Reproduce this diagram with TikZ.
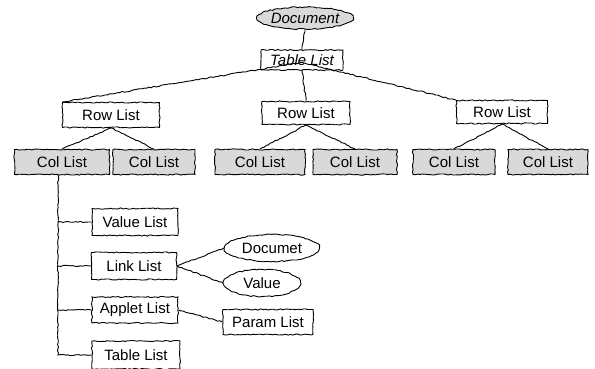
\documentclass[tikz,border=0pt]{standalone}
\usepackage{fontspec}
\setmainfont{Liberation Sans}
\usetikzlibrary{shapes.geometric,decorations.pathmorphing}
\tikzset{
  rough/.style   = {decorate, decoration={random steps, segment length=2.5pt, amplitude=0.6pt}},
  listbox/.style = {rectangle, draw, rough, line width=0.9pt, inner sep=0pt,
                    minimum height=25pt, font=\fontsize{15}{17}\selectfont},
  colbox/.style  = {listbox, fill=gray!30},
  docnode/.style = {ellipse, draw, rough, line width=0.9pt, inner sep=0pt,
                    minimum height=27pt, font=\fontsize{15}{17}\selectfont},
  link/.style    = {rough, line width=0.9pt}
}

\begin{document}
\begin{tikzpicture}[x=1pt,y=-1pt]
\pgfmathsetseed{7}
\useasboundingbox (0,0) rectangle (595,369);

% --- root ---
\node[docnode, fill=gray!30, minimum width=80pt, minimum height=22pt, font=\fontsize{15}{17}\selectfont\itshape] (doc) at (305,18) {Document};
\node[listbox, minimum width=82pt, minimum height=20pt, font=\fontsize{15}{17}\selectfont\itshape] (tabtop) at (302,60) {Table List};

% --- row lists ---
\node[listbox, minimum width=97pt] (row1) at (111,115) {Row List};
\node[listbox, minimum width=88pt, minimum height=23pt] (row2) at (306,113) {Row List};
\node[listbox, minimum width=91pt, minimum height=23pt] (row3) at (502,112) {Row List};

% --- col lists ---
\foreach \x/\w [count=\i] in {62/95, 154/82, 260/90, 355/84, 454/82, 548/80}{
  \node[colbox, minimum width=\w pt] (col\i) at (\x,162) {Col List};
}

% --- children of the first col list ---
\node[listbox, minimum width=86pt, minimum height=27pt] (vlist) at (135,222) {Value List};
\node[listbox, minimum width=85pt, minimum height=27pt] (llist) at (134,266) {Link List};
\node[listbox, minimum width=86pt, minimum height=26pt] (alist) at (135,310) {Applet List};
\node[listbox, minimum width=88pt, minimum height=28pt] (tlist) at (136,355) {Table List};

\node[docnode, minimum width=95pt] (documet) at (272,248) {Documet};
\node[docnode, minimum width=77pt] (value) at (262,283) {Value};
\node[listbox, minimum width=90pt] (param) at (268,322) {Param List};

% --- connections ---
\draw[link] (doc.south) -- (tabtop.north);
\coordinate (split) at ([yshift=8pt]tabtop.south);
\draw[link] (tabtop.south) -- (row2.north);
\draw[link] (split) -- (row1.north west);
\draw[link] (split) -- (row3.north west);

\foreach \r/\a/\b in {1/1/2, 2/3/4, 3/5/6}{
  \draw[link] (row\r.south) -- (col\a.north);
  \draw[link] (row\r.south) -- (col\b.north);
}

\coordinate (trunk) at ([xshift=-4pt]col1.south);
\draw[link] (trunk) |- (tlist.west);
\foreach \n in {vlist, llist, alist}{
  \draw[link] (trunk |- \n.west) -- (\n.west);
}

\draw[link] (llist.east) -- (documet.west);
\draw[link] (llist.east) -- (value.west);
\draw[link] (alist.east) -- (param.west);

\end{tikzpicture}
\end{document}
